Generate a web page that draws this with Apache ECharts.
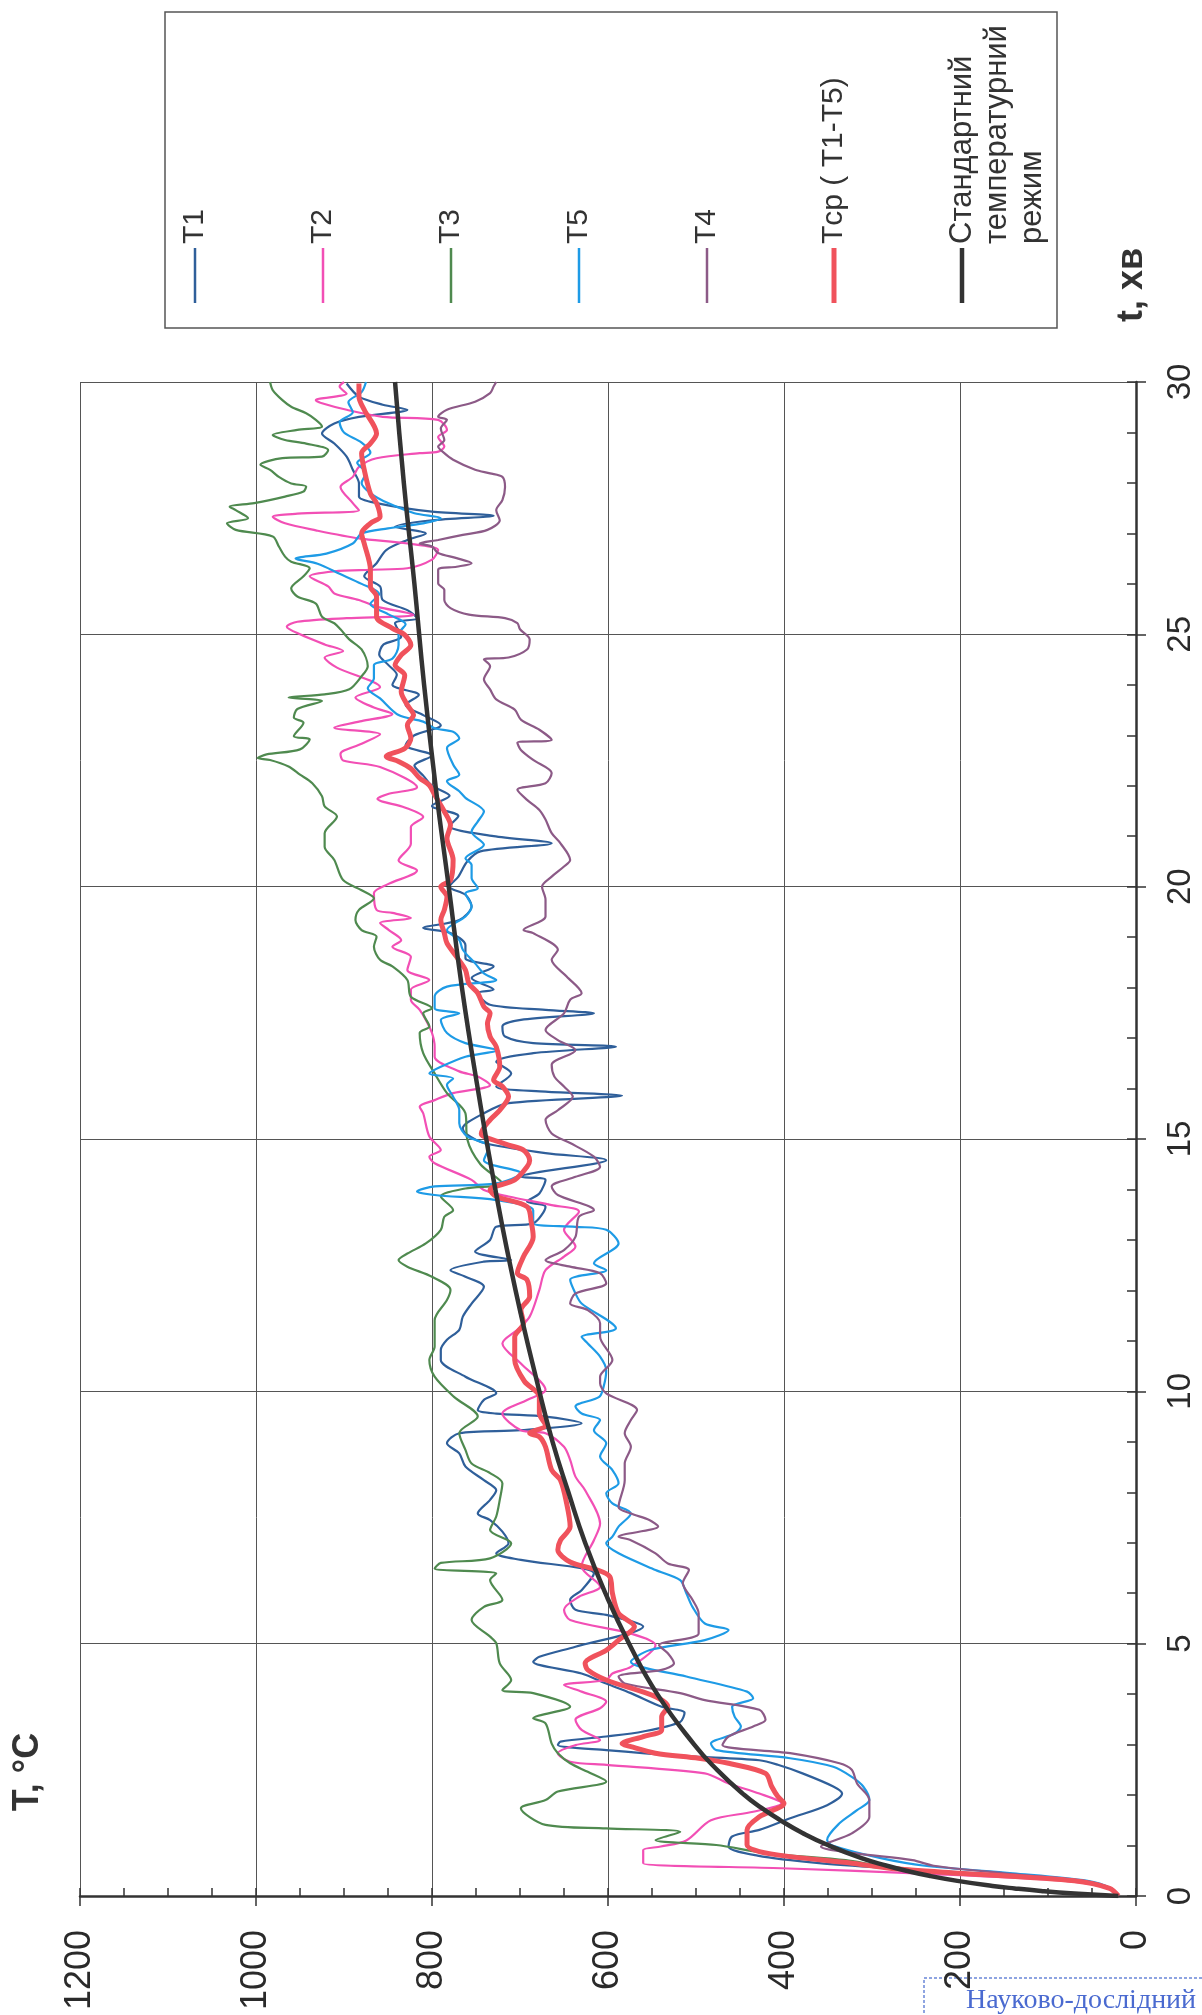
<!DOCTYPE html>
<html><head><meta charset="utf-8">
<script src="https://cdn.jsdelivr.net/npm/echarts@6/dist/echarts.min.js"></script>
<style>html,body{margin:0;padding:0;background:#fff;} #c{width:1202px;height:2015px;}</style>
</head><body><div id="c"></div>
<script>
// ---- tick labels ----
const timeTicks = [0, 5, 10, 15, 20, 25, 30];          // t, хв
const tempTicks = [0, 200, 400, 600, 800, 1000, 1200]; // T, °C

// ---- series names ----
const names = ['T1', 'T2', 'T3', 'T5', 'T4', 'Tср ( T1-T5)', 'Стандартний температурний режим'];

// ---- series values: [time (min), temperature (°C)] ----
const t1 = [[0,20],[0.15,30],[0.3,70],[0.45,180],[0.55,280],[0.65,360],[0.8,430],[0.98,463],[1.18,459],[1.31,428],[1.54,393],[1.8,351],[2.03,334],[2.17,344],[2.43,379],[2.6,407],[2.69,428],[2.77,511],[2.89,602],[2.99,657],[3.06,654],[3.16,602],[3.26,560],[3.45,518],[3.63,513],[3.75,539],[4.02,574],[4.21,602],[4.41,630],[4.64,685],[4.74,678],[4.94,637],[5.34,560],[5.57,602],[5.67,637],[5.87,643],[6.06,630],[6.39,616],[6.66,699],[6.79,727],[6.99,713],[7.22,720],[7.45,734],[7.58,748],[7.85,734],[8.04,727],[8.24,741],[8.51,762],[8.77,769],[8.97,783],[9.17,769],[9.23,699],[9.37,630],[9.5,671],[9.56,727],[9.63,748],[9.83,741],[9.96,727],[10.29,762],[10.62,790],[10.82,790],[11.02,783],[11.22,769],[11.48,765],[11.74,755],[12.07,741],[12.27,762],[12.4,779],[12.57,741],[12.6,710],[12.77,751],[13.0,734],[13.26,727],[13.33,685],[13.66,671],[13.76,692],[13.92,678],[14.19,671],[14.25,699],[14.58,602],[14.72,671],[14.92,741],[15.11,762],[15.21,765],[15.51,741],[15.71,713],[15.86,584],[15.94,671],[16.04,727],[16.3,710],[16.53,727],[16.7,685],[16.83,591],[16.9,685],[17.03,717],[17.23,720],[17.36,699],[17.49,616],[17.56,671],[17.66,734],[17.89,748],[17.96,730],[18.19,755],[18.42,730],[18.58,762],[18.84,762],[19.08,779],[19.18,810],[19.34,769],[19.61,755],[19.84,762],[20.0,780],[20.2,770],[20.5,760],[20.7,745],[20.86,664],[21.0,730],[21.2,780],[21.4,770],[21.6,800],[21.8,780],[22.0,800],[22.2,810],[22.4,820],[22.6,800],[22.8,830],[23.0,820],[23.2,790],[23.4,810],[23.6,830],[23.8,815],[24.0,845],[24.2,840],[24.4,850],[24.6,860],[24.8,855],[24.95,835],[25.22,842],[25.32,817],[25.48,828],[25.68,856],[25.95,859],[26.15,877],[26.41,863],[26.67,852],[26.87,828],[27.0,807],[27.13,842],[27.26,800],[27.35,730],[27.43,800],[27.6,863],[27.73,883],[27.99,883],[28.26,890],[28.52,897],[28.78,911],[28.98,925],[29.18,911],[29.31,883],[29.45,828],[29.55,856],[29.71,883],[29.97,897]];

const t2 = [[0,20],[0.15,30],[0.3,80],[0.45,250],[0.55,403],[0.65,560],[0.78,560],[0.91,560],[0.98,540],[1.1,511],[1.5,483],[1.67,435],[1.84,403],[2.03,428],[2.23,463],[2.43,490],[2.6,602],[2.66,643],[2.83,657],[2.99,637],[3.09,609],[3.29,630],[3.49,637],[3.72,609],[3.85,602],[4.05,630],[4.18,650],[4.28,602],[4.41,595],[4.54,574],[4.97,546],[5.2,574],[5.47,643],[5.67,650],[5.93,633],[6.13,609],[6.53,630],[7.05,616],[7.38,609],[8.04,626],[8.31,637],[8.64,643],[8.9,650],[9.17,671],[9.23,699],[9.56,720],[9.83,692],[10.03,671],[10.55,699],[10.95,720],[11.22,703],[11.48,689],[12.01,678],[12.4,671],[12.67,650],[12.87,637],[13.2,650],[13.56,633],[13.69,664],[13.86,713],[13.99,741],[14.19,755],[14.52,797],[14.65,803],[14.78,790],[15.05,803],[15.51,810],[15.64,814],[15.77,797],[15.91,776],[16.07,734],[16.24,748],[16.34,769],[16.63,797],[16.83,797],[17.1,800],[17.36,807],[17.56,814],[17.76,824],[17.96,824],[18.15,803],[18.35,828],[18.61,824],[18.81,845],[18.94,835],[19.14,849],[19.28,859],[19.38,824],[19.48,845],[19.54,863],[19.87,866],[20.05,850],[20.32,817],[20.52,838],[20.85,824],[21.18,824],[21.38,810],[21.57,831],[21.74,862],[21.84,849],[21.97,817],[22.37,859],[22.5,901],[22.63,904],[22.83,880],[23.02,859],[23.15,911],[23.28,880],[23.42,845],[23.55,866],[23.75,887],[23.95,859],[24.34,908],[24.54,922],[24.67,901],[24.8,922],[25.0,950],[25.15,965],[25.25,953],[25.32,897],[25.35,842],[25.38,821],[25.55,863],[25.68,883],[25.81,911],[25.95,918],[26.15,939],[26.25,911],[26.28,870],[26.31,828],[26.48,800],[26.67,793],[26.8,828],[26.9,883],[27.06,932],[27.2,967],[27.33,981],[27.39,953],[27.46,883],[27.6,890],[27.92,904],[28.12,890],[28.32,883],[28.49,863],[28.59,814],[28.62,793],[28.72,786],[28.91,793],[29.05,783],[29.25,793],[29.31,856],[29.45,897],[29.58,925],[29.64,932],[29.77,897],[29.91,905],[30,900]];

const t3 = [[0,20],[0.15,30],[0.3,75],[0.45,200],[0.6,290],[0.71,330],[0.85,420],[1.01,477],[1.11,546],[1.27,518],[1.34,602],[1.41,671],[1.74,699],[1.9,671],[2.07,657],[2.27,602],[2.46,623],[2.63,643],[2.83,657],[3.02,664],[3.42,671],[3.52,685],[3.75,643],[4.02,685],[4.08,720],[4.28,710],[4.61,723],[5.01,727],[5.14,734],[5.47,755],[5.73,741],[5.87,720],[6.26,734],[6.39,727],[6.49,797],[6.6,790],[6.69,734],[6.99,710],[7.25,734],[7.52,727],[7.85,723],[8.18,720],[8.38,734],[8.57,755],[8.84,762],[9.17,769],[9.5,748],[9.89,775],[10.29,797],[10.62,803],[10.89,797],[11.41,797],[11.81,783],[12.01,779],[12.27,800],[12.47,828],[12.6,838],[12.73,828],[12.93,807],[13.2,790],[13.46,786],[13.59,776],[13.86,790],[14.02,762],[14.12,720],[14.5,745],[15.0,760],[15.51,762],[15.91,783],[16.3,797],[16.7,810],[17.1,814],[17.23,803],[17.49,810],[17.59,800],[17.82,824],[18.15,828],[18.42,845],[18.55,859],[18.81,866],[19.01,863],[19.14,880],[19.34,887],[19.54,883],[19.77,866],[19.93,880],[20.13,901],[20.53,911],[20.79,922],[21.06,922],[21.39,908],[21.59,922],[21.79,925],[22.05,936],[22.22,950],[22.38,963],[22.51,984],[22.55,998],[22.62,988],[22.72,950],[22.92,939],[22.98,957],[23.25,946],[23.35,957],[23.52,953],[23.68,925],[23.75,963],[23.81,922],[23.91,894],[24.17,880],[24.37,873],[24.7,880],[24.9,894],[25.1,904],[25.22,911],[25.35,925],[25.61,932],[25.75,953],[25.91,960],[26.15,946],[26.31,939],[26.44,960],[26.54,967],[26.74,974],[26.94,981],[27.07,1023],[27.2,1033],[27.3,1009],[27.46,1023],[27.53,1030],[27.6,1002],[27.73,967],[27.83,946],[27.93,943],[27.99,960],[28.12,974],[28.26,984],[28.36,995],[28.49,970],[28.52,925],[28.65,918],[28.78,943],[28.85,967],[28.95,981],[29.05,953],[29.12,925],[29.25,932],[29.38,943],[29.51,960],[29.64,970],[29.84,981],[30,984]];

const t5 = [[0,20],[0.15,28],[0.3,55],[0.45,140],[0.6,240],[0.75,290],[1.0,345],[1.11,351],[1.44,337],[1.7,317],[1.9,303],[2.17,310],[2.36,323],[2.56,344],[2.73,393],[2.89,477],[3.02,483],[3.22,456],[3.36,449],[3.55,456],[3.75,459],[3.92,435],[4.05,442],[4.35,511],[4.64,574],[4.87,553],[5.07,490],[5.27,463],[5.4,490],[5.73,504],[6.0,511],[6.26,518],[6.46,546],[6.79,588],[6.99,602],[7.12,595],[7.32,588],[7.58,574],[7.78,595],[7.98,602],[8.18,588],[8.44,595],[8.71,609],[8.97,602],[9.23,616],[9.43,609],[9.56,630],[9.7,637],[9.89,610],[10.09,605],[10.42,602],[10.69,609],[10.95,623],[11.08,630],[11.25,591],[11.74,630],[11.94,637],[12.21,643],[12.4,602],[12.54,616],[12.93,588],[13.2,602],[13.26,637],[13.33,685],[13.59,685],[13.79,727],[13.89,797],[13.96,817],[14.06,797],[14.12,727],[14.32,699],[14.58,741],[14.85,735],[15.05,760],[15.31,769],[15.57,769],[15.84,776],[16.07,783],[16.2,776],[16.3,803],[16.43,790],[16.63,762],[16.76,727],[16.9,762],[17.1,783],[17.36,790],[17.49,769],[17.59,797],[17.82,797],[18.02,783],[18.15,727],[18.28,741],[18.48,751],[18.75,765],[18.94,769],[19.14,783],[19.41,762],[19.61,755],[19.87,762],[19.97,748],[20.17,755],[20.43,755],[20.56,762],[20.83,741],[21.09,755],[21.29,748],[21.49,741],[21.76,762],[21.89,769],[22.09,783],[22.22,769],[22.42,776],[22.75,783],[22.94,769],[23.07,776],[23.14,797],[23.27,810],[23.4,838],[23.73,859],[23.93,873],[24.13,866],[24.39,866],[24.52,845],[24.79,838],[25.0,838],[25.2,830],[25.4,850],[25.6,870],[25.8,860],[26.0,880],[26.2,905],[26.4,930],[26.5,955],[26.6,920],[26.8,890],[27.0,880],[27.1,850],[27.2,810],[27.3,790],[27.4,820],[27.6,850],[27.8,870],[28.0,880],[28.2,875],[28.4,885],[28.6,870],[28.8,880],[29.0,900],[29.2,905],[29.4,890],[29.6,895],[29.8,880],[30,875]];

const t4 = [[0,20],[0.15,28],[0.3,60],[0.45,150],[0.6,230],[0.71,254],[0.85,320],[0.98,358],[1.24,323],[1.57,303],[1.9,303],[2.23,317],[2.5,323],[2.63,337],[2.83,393],[2.99,470],[3.16,463],[3.36,435],[3.49,421],[3.69,428],[3.88,490],[4.02,518],[4.21,581],[4.35,588],[4.48,539],[4.61,525],[4.81,532],[4.97,542],[5.2,497],[5.6,497],[5.87,504],[6.2,515],[6.46,508],[6.59,532],[6.79,546],[7.05,574],[7.12,588],[7.32,543],[7.45,553],[7.58,574],[7.71,588],[8.24,581],[8.57,581],[8.9,574],[9.17,581],[9.43,574],[9.63,567],[9.96,602],[10.16,609],[10.29,609],[10.62,595],[11.08,609],[11.35,609],[11.61,623],[11.74,643],[11.94,637],[12.14,602],[12.34,609],[12.47,643],[12.6,671],[12.8,650],[13.06,637],[13.46,633],[13.59,616],[13.89,657],[14.06,664],[14.25,637],[14.45,609],[14.65,616],[14.92,643],[15.11,664],[15.38,671],[15.57,657],[15.84,640],[16.04,650],[16.24,661],[16.47,664],[16.76,637],[16.96,657],[17.16,671],[17.49,650],[17.76,643],[17.89,630],[18.22,647],[18.55,664],[18.75,657],[19.08,685],[19.14,696],[19.41,671],[19.74,671],[20.0,675],[20.2,664],[20.4,650],[20.53,643],[20.86,654],[21.06,664],[21.33,671],[21.52,678],[21.72,692],[21.92,703],[22.05,671],[22.25,664],[22.51,685],[22.71,699],[22.85,703],[22.91,664],[23.11,678],[23.31,699],[23.51,706],[23.71,727],[23.91,734],[24.11,741],[24.37,734],[24.5,741],[24.54,713],[24.7,692],[24.9,689],[25.1,700],[25.22,703],[25.32,717],[25.39,758],[25.52,779],[25.68,786],[25.88,786],[26.01,793],[26.28,793],[26.34,772],[26.41,755],[26.51,772],[26.61,793],[26.74,800],[26.8,814],[26.87,793],[26.97,765],[27.07,737],[27.26,723],[27.46,727],[27.66,720],[27.92,717],[28.12,720],[28.19,734],[28.26,751],[28.46,776],[28.59,786],[28.72,793],[28.85,786],[29.08,790],[29.25,783],[29.31,793],[29.45,783],[29.61,751],[29.78,734],[29.91,730],[30,727]];

const tAvg = [[0,20],[0.15,30],[0.3,70],[0.45,200],[0.55,280],[0.65,323],[0.78,393],[0.88,428],[1.01,442],[1.31,442],[1.57,428],[1.84,400],[1.97,407],[2.17,414],[2.43,421],[2.63,463],[2.73,497],[2.83,546],[2.96,574],[3.02,584],[3.16,560],[3.29,539],[3.55,539],[3.75,532],[3.95,546],[4.28,602],[4.48,623],[4.61,626],[4.87,602],[5.07,588],[5.34,570],[5.6,588],[6.0,595],[6.33,598],[6.46,612],[6.62,643],[6.86,657],[7.05,654],[7.32,643],[7.78,647],[8.24,654],[8.44,664],[8.9,671],[9.1,678],[9.17,689],[9.33,671],[9.56,678],[9.89,678],[10.2,695],[10.62,706],[11.08,706],[11.35,696],[11.61,699],[11.88,689],[12.21,692],[12.34,703],[12.67,696],[13.06,685],[13.33,687],[13.66,692],[13.86,727],[13.99,734],[14.19,706],[14.45,692],[14.58,689],[14.78,696],[14.88,713],[15.05,741],[15.11,744],[15.38,734],[15.57,723],[15.84,713],[16.04,720],[16.17,730],[16.43,723],[16.83,727],[17.03,734],[17.29,737],[17.49,734],[17.62,741],[17.89,748],[18.08,758],[18.35,762],[18.61,772],[18.88,783],[19.08,786],[19.34,790],[19.54,786],[19.8,783],[20.0,790],[20.13,779],[20.53,776],[20.96,783],[21.22,779],[21.49,786],[21.82,797],[22.01,803],[22.15,814],[22.34,824],[22.48,838],[22.58,852],[22.74,831],[22.94,824],[23.2,828],[23.4,821],[23.6,828],[23.86,835],[24.19,831],[24.39,842],[24.59,835],[24.79,824],[24.99,831],[25.12,845],[25.35,863],[25.75,863],[25.95,870],[26.28,870],[26.8,877],[27.0,880],[27.2,870],[27.33,859],[27.6,863],[27.79,870],[28.26,877],[28.59,880],[28.78,870],[28.98,863],[29.45,877],[29.71,883],[29.97,883]];

const tStd = [[0,20],[0.05,70],[0.1,108],[0.15,138],[0.2,163],[0.3,203],[0.4,235],[0.5,261],[0.6,283],[0.75,312],[1,349],[1.25,379],[1.5,404],[1.75,426],[2,445],[2.5,476],[3,502],[4,544],[5,576],[6,603],[7,626],[8,645],[9,663],[10,678],[12,705],[14,728],[16,748],[18,766],[20,781],[22,796],[24,809],[26,820],[28,832],[30,842]];

const seriesData = [t1, t2, t3, t5, t4, tAvg, tStd];
const colors = ['#2f5f9a', '#f24fb5', '#4f8a4f', '#1e9be6', '#8c5a87', '#f0525c', '#333333'];
const widths = [2.2, 2.2, 2.2, 2.2, 2.2, 5, 4.5];

const chart = echarts.init(document.getElementById('c'), null, {renderer: 'canvas'});
const FONT = 'Liberation Sans, Arial, sans-serif';

const series = seriesData.map((arr, i) => ({
  name: names[i],
  type: 'line',
  xAxisIndex: 0, yAxisIndex: 0,
  data: arr.map(p => [p[1], p[0]]),
  showSymbol: false, symbol: 'none',
  smooth: i === 6 ? true : 0.3,
  lineStyle: {color: colors[i], width: widths[i]},
  itemStyle: {color: colors[i]},
  z: i === 6 ? 5 : (i === 5 ? 4 : 2)
}));

// legend (rotated like the reference) built from names/colors
const legendX = [195, 323, 451, 579, 707, 834, 962];
const g = [];
g.push({type: 'rect', shape: {x: 165, y: 12, width: 892, height: 316},
        style: {fill: 'none', stroke: '#555', lineWidth: 1.5}});
names.forEach((n, i) => {
  g.push({type: 'line', shape: {x1: legendX[i], y1: 248, x2: legendX[i], y2: 303},
          style: {stroke: colors[i], lineWidth: widths[i] + (i < 5 ? 0.3 : 0)}});
  if (i < 6) {
    g.push({type: 'text', x: legendX[i], y: 244, rotation: Math.PI / 2,
            style: {text: n, font: '30px ' + FONT, fill: '#333', textAlign: 'left', textVerticalAlign: 'middle'}});
  } else {
    const parts = ['Стандартний', 'температурний', 'режим'];
    parts.forEach((p, k) => {
      g.push({type: 'text', x: legendX[i] + k * 35, y: 244, rotation: Math.PI / 2,
              style: {text: p, font: '31px ' + FONT, fill: '#333', textAlign: 'left', textVerticalAlign: 'middle'}});
    });
  }
});
// axis titles
g.push({type: 'text', x: 28, y: 1772, rotation: Math.PI / 2,
        style: {text: 'T, °C', font: 'bold 36px ' + FONT, fill: '#333', textAlign: 'center', textVerticalAlign: 'middle'}});
g.push({type: 'text', x: 1132, y: 285, rotation: Math.PI / 2,
        style: {text: 't, хв', font: 'bold 36px ' + FONT, fill: '#333', textAlign: 'center', textVerticalAlign: 'middle'}});
// stamp fragment
g.push({type: 'rect', shape: {x: 924, y: 1978, width: 300, height: 60},
        style: {fill: 'none', stroke: '#6a86d8', lineWidth: 1.5, lineDash: [3, 2]}});
g.push({type: 'text', x: 966, y: 2001,
        style: {text: 'Науково-дослідний', font: '28px Liberation Serif, serif', fill: '#4a6ad0', textAlign: 'left', textVerticalAlign: 'middle'}});

const tickStyle = {color: '#333', width: 1.5};
const plain = v => String(v);
const option = {
  animation: false,
  backgroundColor: '#fff',
  grid: {left: 80, right: 66, top: 382, bottom: 119, containLabel: false},
  xAxis: [{
    type: 'value', min: tempTicks[0], max: tempTicks[tempTicks.length - 1], interval: tempTicks[1] - tempTicks[0],
    inverse: true, position: 'bottom',
    axisLine: {show: true, onZero: false, lineStyle: {color: '#333', width: 2.5}},
    axisTick: {show: true, inside: true, length: 8, lineStyle: tickStyle},
    minorTick: {show: true, splitNumber: 4, length: 8, lineStyle: tickStyle},
    splitLine: {show: true, lineStyle: {color: '#555', width: 1}},
    axisLabel: {rotate: 90, margin: 34, fontSize: 36, color: '#2a2a2a', fontFamily: FONT, formatter: plain}
  }, {
    type: 'value', min: tempTicks[0], max: tempTicks[tempTicks.length - 1], interval: tempTicks[1] - tempTicks[0],
    inverse: true, position: 'bottom',
    axisLine: {show: false, onZero: false},
    axisTick: {show: true, inside: false, length: 10, lineStyle: tickStyle},
    axisLabel: {show: false}, splitLine: {show: false}
  }],
  yAxis: [{
    type: 'value', min: timeTicks[0], max: timeTicks[timeTicks.length - 1], interval: timeTicks[1] - timeTicks[0],
    position: 'right',
    axisLine: {show: true, onZero: false, lineStyle: {color: '#333', width: 2.5}},
    axisTick: {show: true, inside: true, length: 9, lineStyle: tickStyle},
    minorTick: {show: true, splitNumber: 5, length: 9, lineStyle: tickStyle},
    splitLine: {show: true, lineStyle: {color: '#555', width: 1}},
    axisLabel: {rotate: 90, margin: 28, fontSize: 33, color: '#2a2a2a', fontFamily: FONT, formatter: plain}
  }, {
    type: 'value', min: timeTicks[0], max: timeTicks[timeTicks.length - 1], interval: timeTicks[1] - timeTicks[0],
    position: 'right',
    axisLine: {show: false, onZero: false},
    axisTick: {show: true, inside: false, length: 10, lineStyle: tickStyle},
    axisLabel: {show: false}, splitLine: {show: false}
  }],
  series: series,
  graphic: g
};
chart.setOption(option);
</script>
</body></html>
